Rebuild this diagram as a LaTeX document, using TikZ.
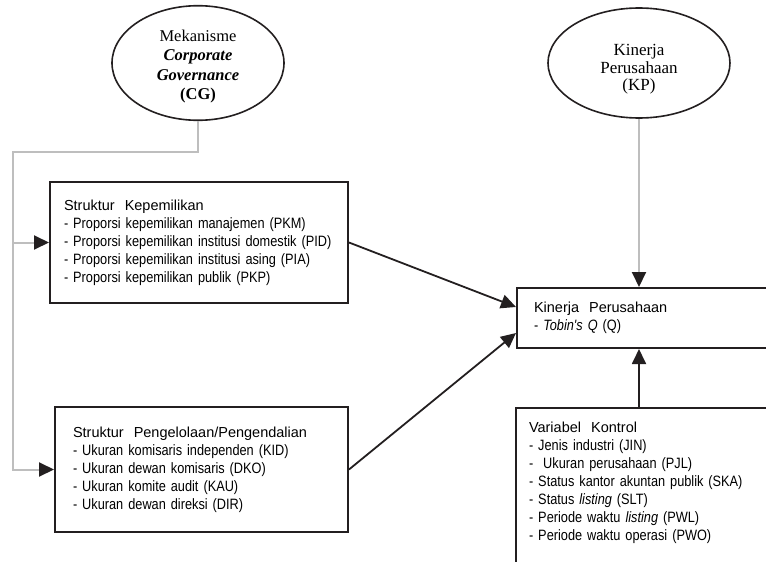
\documentclass[tikz,border=0pt]{standalone}
\usepackage{fontspec}
\setmainfont{Liberation Serif}
\newfontfamily\boxfont[FakeStretch=0.85]{Liberation Sans}
\newfontfamily\headfont{Liberation Sans}
\usetikzlibrary{shapes.geometric,arrows.meta}
\definecolor{linegrey}{RGB}{190,190,190}
\definecolor{tinta}{RGB}{35,31,32}

\begin{document}
\begin{tikzpicture}[x=1pt,y=-1pt,
    konsep/.style={ellipse,draw=tinta,line width=1.6pt,align=center,inner sep=0pt},
    kotak/.style={draw=tinta,line width=2pt,align=left,inner xsep=17pt,inner ysep=15pt,
      font=\boxfont\fontsize{15}{18}\selectfont},
    panah/.style={draw=tinta,line width=1.8pt,-{Triangle[length=15pt,width=14pt]}},
    garis/.style={draw=linegrey,line width=2pt,-{Triangle[length=15pt,width=14pt,color=tinta]}}]

    \useasboundingbox (0,0) rectangle (766,562);

    % variabel (elips)
    \node[konsep,minimum width=172pt,minimum height=110pt,font=\fontsize{16.5}{19.5}\selectfont] (cg) at (198,63)
      {\rule{0pt}{19pt}Mekanisme\\ \textbf{\textit{Corporate}}\\ \textbf{\textit{Governance}}\\ \textbf{(CG)}};
    \node[konsep,minimum width=182pt,minimum height=110pt,font=\fontsize{17}{17.8}\selectfont] (kpe) at (639,63)
      {\rule{0pt}{24pt}Kinerja\\ Perusahaan\\ (KP)};

    % kotak indikator
    \node[kotak,text width=270pt,inner xsep=14pt,minimum height=121pt] (sk) at (199,242.5)
      {{\headfont\fontsize{14.5}{18}\selectfont Struktur\ \ Kepemilikan}\\
       - Proporsi kepemilikan manajemen (PKM)\\
       - Proporsi kepemilikan institusi domestik (PID)\\
       - Proporsi kepemilikan institusi asing (PIA)\\
       - Proporsi kepemilikan publik (PKP)};
    \node[kotak,text width=257pt,inner xsep=18pt,minimum height=125pt] (sp) at (201.5,469.5)
      {{\headfont\fontsize{14.5}{18}\selectfont Struktur\ \ Pengelolaan/Pengendalian}\\
       - Ukuran komisaris independen (KID)\\
       - Ukuran dewan komisaris (DKO)\\
       - Ukuran komite audit (KAU)\\
       - Ukuran dewan direksi (DIR)};
    \node[kotak,anchor=west,text width=270pt,minimum height=60pt,inner ysep=8pt] (kp) at (516,318)
      {{\headfont\fontsize{14.5}{18}\selectfont Kinerja\ \ Perusahaan}\\
       - \textit{Tobin's Q} (Q)};
    \node[kotak,anchor=north west,text width=270pt,inner xsep=13pt,inner ysep=14pt] (vk) at (515,407)
      {{\headfont\fontsize{14.5}{18}\selectfont Variabel\ \ Kontrol}\\
       - Jenis industri (JIN)\\
       - \ Ukuran perusahaan (PJL)\\
       - Status kantor akuntan publik (SKA)\\
       - Status \textit{listing} (SLT)\\
       - Periode waktu \textit{listing} (PWL)\\
       - Periode waktu operasi (PWO)\rule[-40pt]{0pt}{40pt}};

    % garis abu-abu
    \coordinate (kiri) at (13,152);
    \draw[garis] (cg.south) |- (kiri) |- (sp.west);
    \draw[garis] (kiri |- sk.west) -- (sk.west);
    \draw[garis] (kpe.south) -- (kpe.south |- kp.north);

    % panah hitam
    \draw[panah] (sk.east) -- ([yshift=11pt]kp.west);
    \draw[panah] (sp.east) -- ([yshift=-15pt]kp.west);
    \draw[panah] (vk.north -| kpe.south) -- (kp.south -| kpe.south);
\end{tikzpicture}
\end{document}
